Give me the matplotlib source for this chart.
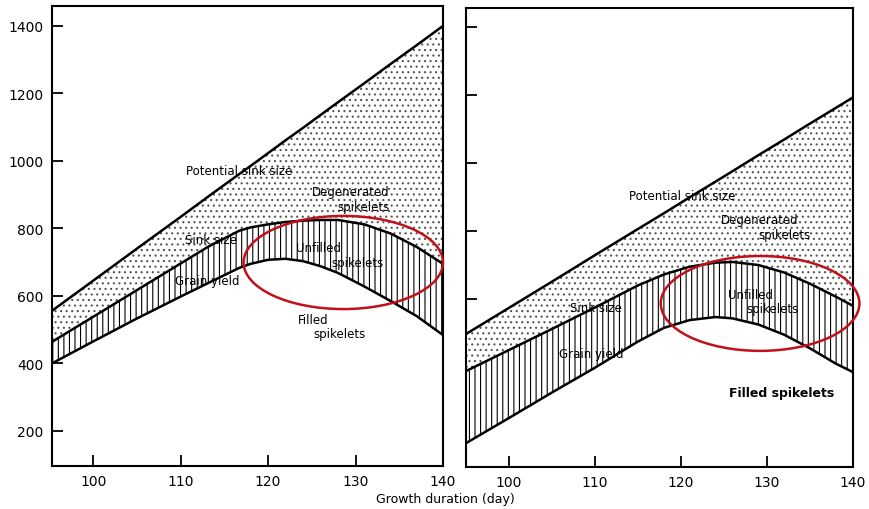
import matplotlib.pyplot as plt
from matplotlib.patches import Ellipse

plt.rcParams['font.family'] = ['DejaVu Sans']
plt.rcParams['hatch.linewidth'] = 0.8

# 左图数据
days_a = [95.3, 100, 105, 110, 113.3, 116.7, 118, 120, 122, 124, 126, 128, 131, 134, 137, 140]
potential_a = [556, 645, 740, 834, 897, 961, 985, 1023, 1061, 1098, 1136, 1174, 1230, 1287, 1343, 1400]
sink_a = [464, 538, 617, 696, 748, 793, 803, 812, 819, 823, 825, 825, 812, 785, 745, 695]
grain_a = [400, 465, 533, 598, 640, 683, 695, 707, 710, 703, 688, 668, 628, 585, 540, 484]

# 右图数据
days_b = [95, 100, 105, 110, 115, 118, 121, 124, 126, 129, 132, 135, 138, 140]
potential_b = [497, 574, 651, 729, 806, 852, 899, 945, 976, 1023, 1069, 1116, 1162, 1193]
sink_b = [388, 450, 512, 575, 640, 672, 695, 707, 709, 700, 678, 645, 607, 580]
grain_b = [176, 250, 325, 398, 475, 515, 538, 547, 543, 525, 495, 455, 410, 385]

xticks = [100, 110, 120, 130, 140]
yticks = [200, 400, 600, 800, 1000, 1200, 1400]

fig = plt.figure(figsize=(8.7, 5.1), dpi=100)
ax1 = fig.add_axes([0.0598, 0.0843, 0.4494, 0.902])
ax2 = fig.add_axes([0.5356, 0.0824, 0.4448, 0.900])


def draw(ax, days, pot, sink, grain):
    ax.fill_between(days, sink, pot, facecolor='none', edgecolor='#555555',
                    linewidth=0, hatch='...')
    ax.fill_between(days, grain, sink, facecolor='none', edgecolor='k',
                    linewidth=0, hatch='|||')
    for s in (pot, sink, grain):
        ax.plot(days, s, color='k', lw=1.8)
    ax.set_xticks(xticks)
    ax.tick_params(direction='in', length=8, width=1.3, labelsize=10, pad=6)
    for sp in ax.spines.values():
        sp.set_linewidth(1.5)


draw(ax1, days_a, potential_a, sink_a, grain_a)
ax1.set_xlim(95.3, 140)
ax1.set_ylim(96, 1459)
ax1.set_yticks(yticks)

draw(ax2, days_b, potential_b, sink_b, grain_b)
ax2.set_xlim(95, 140)
ax2.set_ylim(106, 1456)
ax2.set_yticks(yticks[2:])
ax2.set_yticklabels([])

fs = 8.5
# 左图文字
ax1.text(116.7, 973, 'Potential sink size', fontsize=fs, ha='center', va='center')
ax1.text(133.9, 910, 'Degenerated', fontsize=fs, ha='right', va='center')
ax1.text(133.9, 866, 'spikelets', fontsize=fs, ha='right', va='center')
ax1.text(113.5, 766, 'Sink size', fontsize=fs, ha='center', va='center')
ax1.text(125.8, 742, 'Unfilled', fontsize=fs, ha='center', va='center')
ax1.text(130.2, 700, 'spikelets', fontsize=fs, ha='center', va='center')
ax1.text(113.0, 647, 'Grain yield', fontsize=fs, ha='center', va='center')
ax1.text(125.2, 530, 'Filled', fontsize=fs, ha='center', va='center')
ax1.text(128.2, 489, 'spikelets', fontsize=fs, ha='center', va='center')

# 右图文字
ax2.text(120.1, 903, 'Potential sink size', fontsize=fs, ha='center', va='center')
ax2.text(129.2, 833, 'Degenerated', fontsize=fs, ha='center', va='center')
ax2.text(132.0, 790, 'spikelets', fontsize=fs, ha='center', va='center')
ax2.text(110.1, 576, 'Sink size', fontsize=fs, ha='center', va='center')
ax2.text(128.1, 612, 'Unfilled', fontsize=fs, ha='center', va='center')
ax2.text(130.7, 571, 'spikelets', fontsize=fs, ha='center', va='center')
ax2.text(109.6, 441, 'Grain yield', fontsize=fs, ha='center', va='center')
ax2.text(131.7, 324, 'Filled spikelets', fontsize=9, fontweight='bold',
         ha='center', va='center')

# 红色椭圆标注
ax1.add_patch(Ellipse((128.6, 699), 22.8, 276, fill=False, ec='#c0101a',
                      lw=1.8, clip_on=False, zorder=5))
ax2.add_patch(Ellipse((129.2, 587), 23.1, 279, fill=False, ec='#c0101a',
                      lw=1.8, clip_on=False, zorder=5))

fig.text(445 / 870, 1 - 500 / 510, 'Growth duration (day)', fontsize=9,
         ha='center', va='center')

fig.savefig('out.png', dpi=100, facecolor='white')
